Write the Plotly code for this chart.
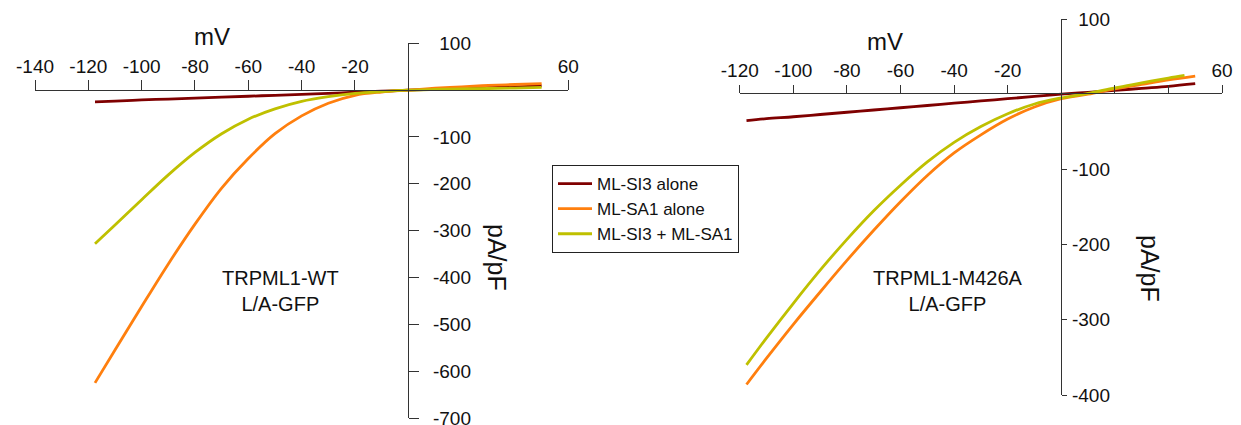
import plotly.graph_objects as go

W, H = 1241, 425
OFF = 8  # page body margin of the browser

# ---------------- data ----------------
SERIES = ["ML-SI3 alone", "ML-SA1 alone", "ML-SI3 + ML-SA1"]
COLORS = ["#7f0000", "#ff7f0e", "#bfc000"]

# Left panel: TRPML1-WT L/A-GFP
wt_mv = [-117.5, -110, -100, -90, -80, -70, -60, -50, -40, -30, -20, -10, 0, 10, 20, 30, 40, 50]
wt_si3 = [-25, -23.5, -21, -19, -17, -15, -13, -11, -9, -6.8, -4.5, -2.3, 0, 1.8, 3.5, 5.3, 7, 9]
wt_sa1 = [-625, -555, -462, -371, -286, -209, -146, -93, -55, -28, -11, -4, 0, 4, 7, 10, 12, 14]
wt_both = [-328, -288, -234, -181, -133, -93, -62, -40, -24, -14, -7, -3, 0, 1.5, 2.5, 3.5, 4.5, 6]

# Right panel: TRPML1-M426A L/A-GFP
m_mv = [-117.5, -110, -100, -90, -80, -70, -60, -50, -40, -30, -20, -10, 0, 10, 20, 30, 40, 50]
m_si3 = [-35, -32.5, -30, -27, -24, -21, -18, -15, -12, -9, -6, -3, 0, 2.5, 5, 7.8, 10.5, 14]
m_sa1 = [-386, -351, -306, -263, -221, -181, -143, -108, -78, -54, -33, -17, -6, 0, 7, 13, 19, 24]
m_both_mv = [-117.5, -110, -100, -90, -80, -70, -60, -50, -40, -30, -20, -10, 0, 10, 20, 30, 40, 46]
m_both = [-360, -324, -278, -234, -193, -155, -121, -90, -64, -43, -26, -13, -5, 1, 8.5, 15, 21.5, 25]

# axis ticks
L_XT = [-140, -120, -100, -80, -60, -40, -20, 60]
L_YT = [100, -100, -200, -300, -400, -500, -600, -700]
R_XT = [-120, -100, -80, -60, -40, -20, 20, 40, 60]
R_XT_TEXT = ["-120", "-100", "-80", "-60", "-40", "-20", "", "", "60"]
R_YT = [100, -100, -200, -300, -400]

X_TITLE = "mV"
Y_TITLE = "pA/pF"
PANEL_LABELS = ["TRPML1-WT<br>L/A-GFP", "TRPML1-M426A<br>L/A-GFP"]

# ---------------- helpers (screen pixel -> paper fraction) ----------------
def fx(p):
    return (p - OFF) / W

def fy(p):
    return 1 - (p - OFF) / H

FONT = "Liberation Sans, Arial, Helvetica, sans-serif"
AX = "#333333"

fig = go.Figure()

left = [wt_si3, wt_sa1, wt_both]
for name, col, ys in zip(SERIES, COLORS, left):
    fig.add_trace(go.Scatter(x=wt_mv, y=ys, mode="lines", name=name,
                             line=dict(color=col, width=2.8, shape="spline", smoothing=1.0),
                             xaxis="x", yaxis="y", showlegend=True))

right = [(m_mv, m_si3), (m_mv, m_sa1), (m_both_mv, m_both)]
for name, col, (xs, ys) in zip(SERIES, COLORS, right):
    fig.add_trace(go.Scatter(x=xs, y=ys, mode="lines", name=name,
                             line=dict(color=col, width=2.8, shape="spline", smoothing=1.0),
                             xaxis="x2", yaxis="y2", showlegend=False))

# empty traces to anchor the label-only overlay axes
fig.add_trace(go.Scatter(x=[], y=[], xaxis="x", yaxis="y3", showlegend=False, hoverinfo="skip"))
fig.add_trace(go.Scatter(x=[], y=[], xaxis="x2", yaxis="y4", showlegend=False, hoverinfo="skip"))

tickfont = dict(family=FONT, size=19, color="#111")

common_x = dict(anchor="free", side="top", ticks="outside", showline=True, linecolor=AX,
                linewidth=1, tickcolor=AX, tickwidth=1, showgrid=False, zeroline=False,
                tickfont=tickfont, automargin=False)
common_y = dict(anchor="free", side="right", ticks="outside", showline=True, linecolor=AX,
                linewidth=1, tickcolor=AX, tickwidth=1, showgrid=False, zeroline=False,
                showticklabels=False, automargin=False)
label_y = dict(anchor="free", side="left", ticks="", showline=False, showgrid=False,
               zeroline=False, tickfont=tickfont, automargin=False)

fig.update_layout(
    width=W, height=H,
    margin=dict(l=0, r=0, t=0, b=0, pad=0, autoexpand=False),
    paper_bgcolor="white", plot_bgcolor="rgba(0,0,0,0)",
    font=dict(family=FONT, color="#111"),
    xaxis=dict(domain=[fx(35), fx(568.3)], range=[-140, 60], position=fy(90.1), ticklen=10,
               tickvals=L_XT, ticktext=[str(v) for v in L_XT], **common_x),
    yaxis=dict(domain=[fy(418), fy(43.3)], range=[-700, 100], position=fx(408.3), ticklen=10,
               tickvals=L_YT, **common_y),
    yaxis3=dict(overlaying="y", range=[-700, 100], position=fx(471),
                tickvals=L_YT, ticktext=[str(v) for v in L_YT], **label_y),
    xaxis2=dict(domain=[fx(739.8), fx(1222)], range=[-120, 60], position=fy(93), ticklen=8,
                tickvals=R_XT, ticktext=R_XT_TEXT, **common_x),
    yaxis2=dict(domain=[fy(395), fy(19)], range=[-400, 100], position=fx(1061.3), ticklen=5,
                tickvals=R_YT, **common_y),
    yaxis4=dict(overlaying="y2", range=[-400, 100], position=fx(1110),
                tickvals=R_YT, ticktext=[str(v) for v in R_YT], **label_y),
    legend=dict(x=fx(552), y=fy(165), xanchor="left", yanchor="top",
                bordercolor="#222", borderwidth=1, bgcolor="white",
                font=dict(family=FONT, size=17, color="#111"),
                tracegroupgap=0, itemwidth=34),
    showlegend=True,
)

ann = []
ann.append(dict(x=fx(212), y=fy(36), text=X_TITLE))
ann.append(dict(x=fx(885), y=fy(42), text=X_TITLE))
for a in ann:
    a.update(xref="paper", yref="paper", showarrow=False, xanchor="center", yanchor="middle",
             font=dict(family=FONT, size=24, color="#111"))
ann2 = [
    dict(x=fx(497), y=fy(257), text=Y_TITLE, textangle=90),
    dict(x=fx(1150), y=fy(268), text=Y_TITLE, textangle=90),
]
for a in ann2:
    a.update(xref="paper", yref="paper", showarrow=False, xanchor="center", yanchor="middle",
             font=dict(family=FONT, size=25, color="#111"))
ann3 = [
    dict(x=fx(280), y=fy(291), text=PANEL_LABELS[0]),
    dict(x=fx(948), y=fy(291), text=PANEL_LABELS[1]),
]
for a in ann3:
    a.update(xref="paper", yref="paper", showarrow=False, xanchor="center", yanchor="middle",
             align="center", font=dict(family=FONT, size=20, color="#111"))
fig.update_layout(annotations=ann + ann2 + ann3)

fig.write_html("out.html")
